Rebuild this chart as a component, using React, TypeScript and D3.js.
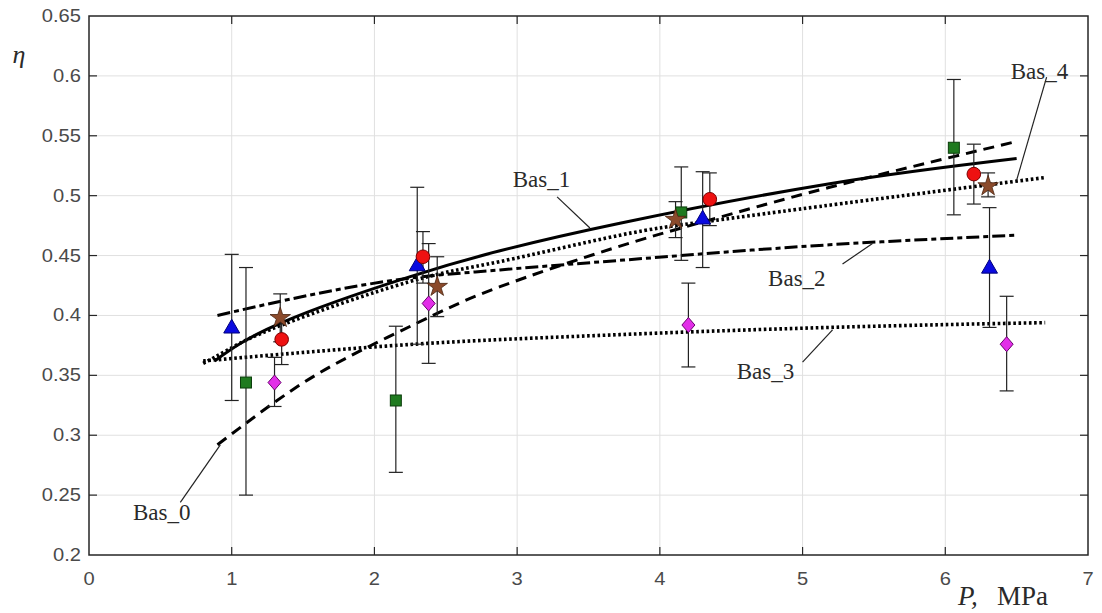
import React from "react";
import * as d3 from "d3";

// ---------- data ----------
const xTicks = [0, 1, 2, 3, 4, 5, 6, 7];
const yTicks = [0.2, 0.25, 0.3, 0.35, 0.4, 0.45, 0.5, 0.55, 0.6, 0.65];

// fitted curves (P, eta)
const bas0P = [0.9, 1.44, 1.91, 2.41, 2.88, 3.67, 4.3, 5.19, 6.49];
const bas0E = [0.292, 0.339, 0.371, 0.4, 0.424, 0.456, 0.478, 0.507, 0.545];
const bas1P = [0.88, 1.35, 2.24, 2.88, 3.72, 5.19, 6.5];
const bas1E = [0.362, 0.394, 0.432, 0.454, 0.477, 0.51, 0.531];
const bas2P = [0.9, 2.24, 2.88, 3.72, 5.19, 6.51];
const bas2E = [0.4, 0.431, 0.438, 0.446, 0.459, 0.467];
const bas3P = [0.8, 1.09, 2.28, 3.72, 5.19, 6.7];
const bas3E = [0.362, 0.365, 0.376, 0.384, 0.39, 0.394];
const bas4P = [0.8, 0.97, 1.35, 2.24, 2.88, 3.72, 4.3, 5.12, 6.69];
const bas4E = [0.36, 0.371, 0.392, 0.428, 0.445, 0.467, 0.478, 0.491, 0.515];

// experimental points with error bars
const triP = [1.0, 2.3, 4.3, 6.31];
const triE = [0.39, 0.442, 0.481, 0.44];
const triLo = [0.329, 0.376, 0.44, 0.39];
const triHi = [0.451, 0.507, 0.52, 0.49];

const sqP = [1.1, 2.15, 4.15, 6.06];
const sqE = [0.344, 0.329, 0.486, 0.54];
const sqLo = [0.25, 0.269, 0.446, 0.484];
const sqHi = [0.44, 0.391, 0.524, 0.597];

const circP = [1.35, 2.34, 4.35, 6.2];
const circE = [0.38, 0.449, 0.497, 0.518];
const circLo = [0.359, 0.427, 0.475, 0.493];
const circHi = [0.4, 0.47, 0.519, 0.543];

const diaP = [1.3, 2.38, 4.2, 6.43];
const diaE = [0.344, 0.41, 0.392, 0.376];
const diaLo = [0.324, 0.36, 0.357, 0.337];
const diaHi = [0.365, 0.46, 0.427, 0.416];

const starP = [1.34, 2.44, 4.11, 6.3];
const starE = [0.398, 0.424, 0.48, 0.508];
const starLo = [0.378, 0.399, 0.465, 0.499];
const starHi = [0.418, 0.449, 0.495, 0.519];

// curve labels: text position and leader line (data units)
const labelNames = ["Bas_0", "Bas_1", "Bas_2", "Bas_3", "Bas_4"];
const labelP = [0.51, 3.17, 4.96, 4.74, 6.66];
const labelE = [0.229, 0.507, 0.425, 0.347, 0.597];
const leadP1 = [0.64, 3.28, 5.28, 5.0, 6.71];
const leadE1 = [0.244, 0.499, 0.443, 0.361, 0.599];
const leadP2 = [0.92, 3.51, 5.49, 5.21, 6.5];
const leadE2 = [0.292, 0.473, 0.46, 0.388, 0.513];

// ---------- layout ----------
const W = 1102;
const H = 613;
const L = 89, R = 1088, T = 16, B = 555;

const x = d3.scaleLinear().domain([0, 7]).range([L, R]);
const y = d3.scaleLinear().domain([0.2, 0.65]).range([B, T]);

const zip = (a: number[], b: number[]) => a.map((v, i) => [v, b[i]] as [number, number]);
const lineNat = d3
  .line<[number, number]>()
  .x((d) => x(d[0]))
  .y((d) => y(d[1]))
  .curve(d3.curveNatural);
const lineMono = d3
  .line<[number, number]>()
  .x((d) => x(d[0]))
  .y((d) => y(d[1]))
  .curve(d3.curveMonotoneX);

const curves = [
  { pts: zip(bas0P, bas0E), dash: "11,7", w: 3, gen: lineNat },
  { pts: zip(bas1P, bas1E), dash: "", w: 3, gen: lineNat },
  { pts: zip(bas2P, bas2E), dash: "13,4,5,4", w: 3, gen: lineMono },
  { pts: zip(bas3P, bas3E), dash: "2.6,2.6", w: 3.6, gen: lineMono },
  { pts: zip(bas4P, bas4E), dash: "2.6,2.6", w: 3.6, gen: lineNat },
];

const starPath = d3.symbol().type(d3.symbolStar).size(130)() as string;
const triPath = d3.symbol().type(d3.symbolTriangle).size(110)() as string;

type Series = { P: number[]; E: number[]; lo: number[]; hi: number[]; kind: string };
const series: Series[] = [
  { P: triP, E: triE, lo: triLo, hi: triHi, kind: "tri" },
  { P: sqP, E: sqE, lo: sqLo, hi: sqHi, kind: "sq" },
  { P: diaP, E: diaE, lo: diaLo, hi: diaHi, kind: "dia" },
  { P: circP, E: circE, lo: circLo, hi: circHi, kind: "circ" },
  { P: starP, E: starE, lo: starLo, hi: starHi, kind: "star" },
];

function Marker({ kind, cx, cy }: { kind: string; cx: number; cy: number }) {
  if (kind === "tri")
    return <path d={triPath} transform={`translate(${cx},${cy + 1})`} fill="#0a0ae0" stroke="#00007a" strokeWidth={1} />;
  if (kind === "sq")
    return <rect x={cx - 5.5} y={cy - 5.5} width={11} height={11} fill="#1f7a1f" stroke="#0b3d0b" strokeWidth={1} />;
  if (kind === "circ")
    return <circle cx={cx} cy={cy} r={6.8} fill="#ee1111" stroke="#7a0000" strokeWidth={1} />;
  if (kind === "dia")
    return (
      <path
        d={`M${cx},${cy - 7.5}L${cx + 6.5},${cy}L${cx},${cy + 7.5}L${cx - 6.5},${cy}Z`}
        fill="#e22ee8"
        stroke="#6a006e"
        strokeWidth={1}
      />
    );
  return <path d={starPath} transform={`translate(${cx},${cy})`} fill="#8b4a2b" stroke="#4a2410" strokeWidth={0.8} />;
}

export default function App() {
  const tickLen = 8;
  return (
    <svg width={W} height={H} style={{ position: "absolute", left: 0, top: 0, background: "#fff" }}>
      {/* grid */}
      {xTicks.slice(1, -1).map((t) => (
        <line key={"gx" + t} x1={x(t)} x2={x(t)} y1={T} y2={B} stroke="#e0e0e0" strokeWidth={1} />
      ))}
      {yTicks.slice(1, -1).map((t) => (
        <line key={"gy" + t} x1={L} x2={R} y1={y(t)} y2={y(t)} stroke="#e0e0e0" strokeWidth={1} />
      ))}

      {/* curves */}
      {curves.map((c, i) => (
        <path
          key={"c" + i}
          d={c.gen(c.pts) as string}
          fill="none"
          stroke="#000"
          strokeWidth={c.w}
          strokeDasharray={c.dash || undefined}
        />
      ))}

      {/* error bars */}
      {series.map((s, si) =>
        s.P.map((p, i) => (
          <g key={"e" + si + "-" + i} stroke="#222" strokeWidth={1.2}>
            <line x1={x(p)} x2={x(p)} y1={y(s.lo[i])} y2={y(s.hi[i])} />
            <line x1={x(p) - 7} x2={x(p) + 7} y1={y(s.lo[i])} y2={y(s.lo[i])} />
            <line x1={x(p) - 7} x2={x(p) + 7} y1={y(s.hi[i])} y2={y(s.hi[i])} />
          </g>
        ))
      )}

      {/* markers */}
      {series.map((s, si) =>
        s.P.map((p, i) => <Marker key={"m" + si + "-" + i} kind={s.kind} cx={x(p)} cy={y(s.E[i])} />)
      )}

      {/* labels */}
      {labelNames.map((n, i) => (
        <g key={"l" + i}>
          <line
            x1={x(leadP1[i])}
            y1={y(leadE1[i])}
            x2={x(leadP2[i])}
            y2={y(leadE2[i])}
            stroke="#222"
            strokeWidth={1.2}
          />
          <text
            x={x(labelP[i])}
            y={y(labelE[i])}
            textAnchor="middle"
            fontFamily="'Liberation Serif', 'Times New Roman', serif"
            fontSize={23}
            fill="#2a2a2a"
          >
            {n}
          </text>
        </g>
      ))}

      {/* axes box */}
      <rect x={L} y={T} width={R - L} height={B - T} fill="none" stroke="#262626" strokeWidth={1.5} />
      {xTicks.slice(1, -1).map((t) => (
        <g key={"tx" + t} stroke="#262626" strokeWidth={1.2}>
          <line x1={x(t)} x2={x(t)} y1={B} y2={B - tickLen} />
          <line x1={x(t)} x2={x(t)} y1={T} y2={T + tickLen} />
        </g>
      ))}
      {yTicks.slice(1, -1).map((t) => (
        <g key={"ty" + t} stroke="#262626" strokeWidth={1.2}>
          <line x1={L} x2={L + tickLen} y1={y(t)} y2={y(t)} />
          <line x1={R} x2={R - tickLen} y1={y(t)} y2={y(t)} />
        </g>
      ))}

      {/* tick labels */}
      {xTicks.map((t) => (
        <g key={"xl" + t} transform={`translate(${x(t)},585) scale(1.15,1)`}>
          <text textAnchor="middle" fontFamily="'Liberation Sans', Arial, sans-serif" fontSize={17.5} fill="#4a4a4a">
            {d3.format("d")(t)}
          </text>
        </g>
      ))}
      {yTicks.map((t) => (
        <g key={"yl" + t} transform={`translate(81,${y(t) + 6}) scale(1.15,1)`}>
          <text textAnchor="end" fontFamily="'Liberation Sans', Arial, sans-serif" fontSize={17.5} fill="#4a4a4a">
            {String(+t.toFixed(2))}
          </text>
        </g>
      ))}

      {/* axis titles */}
      <text x={19} y={63} textAnchor="middle" fontFamily="'Liberation Serif', serif" fontStyle="italic" fontSize={26} fill="#2a2a2a">
        η
      </text>
      <text y={605} fontFamily="'Liberation Serif', serif" fontSize={27} fill="#2a2a2a">
        <tspan x={958} fontStyle="italic">P,</tspan>
        <tspan x={997}>MPa</tspan>
      </text>
    </svg>
  );
}
